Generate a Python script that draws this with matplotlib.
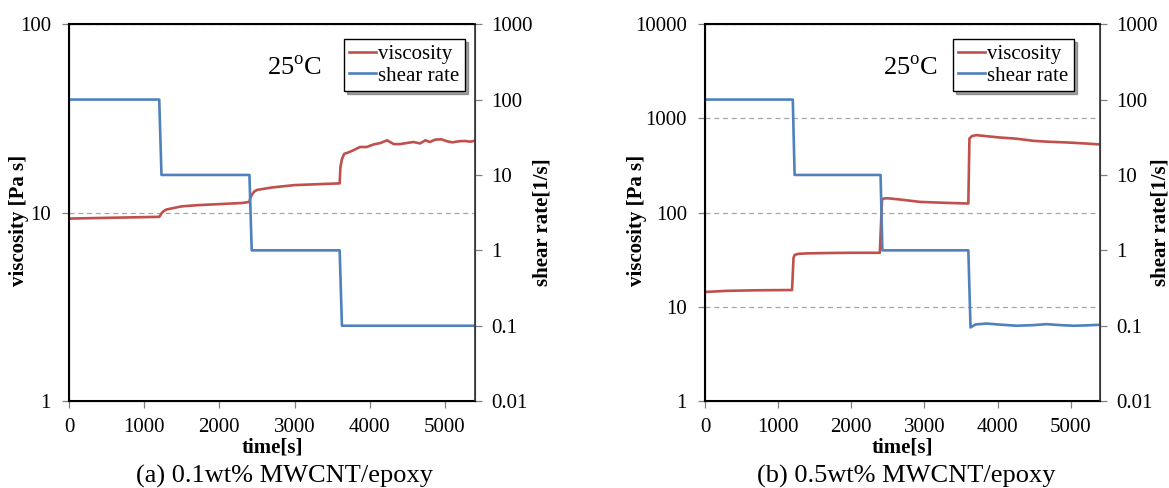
import matplotlib
matplotlib.use('Agg')
import matplotlib.pyplot as plt

plt.rcParams['font.family'] = 'Liberation Serif'
plt.rcParams['mathtext.fontset'] = 'custom'
plt.rcParams['mathtext.rm'] = 'Liberation Serif'

# (a) 0.1 wt% sample
time_a = [0, 300, 600, 900, 1200, 1210, 1230, 1260, 1300, 1400, 1500, 1700, 1900, 2100, 2300,
          2400, 2410, 2430, 2460, 2500, 2600, 2700, 2850, 3000, 3200, 3400, 3600, 3610, 3630,
          3660, 3720, 3780, 3870, 3960, 4050, 4140, 4230, 4320, 4400, 4490, 4580, 4670, 4740,
          4800, 4870, 4950, 5030, 5100, 5180, 5260, 5340, 5400]
visc_a = [9.3, 9.35, 9.4, 9.45, 9.5, 9.6, 9.9, 10.2, 10.4, 10.6, 10.8, 10.95, 11.05, 11.15, 11.25,
          11.4, 11.9, 12.4, 12.9, 13.2, 13.4, 13.6, 13.8, 14.0, 14.1, 14.2, 14.3, 17.5, 19.2,
          20.5, 20.9, 21.4, 22.3, 22.3, 23.0, 23.4, 24.2, 23.1, 23.1, 23.4, 23.7, 23.3, 24.2,
          23.7, 24.4, 24.5, 23.9, 23.6, 23.9, 24.0, 23.8, 24.1]
time_sr_a = [0, 1200, 1230, 2400, 2430, 3600, 3630, 5400]
shear_a = [100, 100, 10, 10, 1, 1, 0.1, 0.1]

# (b) 0.5 wt% sample
time_b = [0, 300, 700, 1190, 1210, 1225, 1270, 1400, 1700, 2000, 2390, 2420, 2450, 2500,
          2660, 2940, 3300, 3600, 3615, 3650, 3710, 4030, 4250, 4490, 4700, 4940, 5200, 5400]
visc_b = [14.4, 14.8, 15.0, 15.1, 33.0, 35.5, 36.5, 37.0, 37.3, 37.5, 37.5, 138, 141.5, 142,
          138, 130, 127, 125, 612, 650, 664, 627, 610, 578, 565, 556, 542, 529]
time_sr_b = [0, 1200, 1225, 2400, 2425, 3600, 3630, 3700, 3850, 4000, 4260, 4500, 4670, 4850,
             5040, 5200, 5400]
shear_b = [100, 100, 10, 10, 1, 1, 0.095, 0.104, 0.107, 0.104, 0.100, 0.102, 0.105, 0.102,
           0.100, 0.101, 0.103]

time_ticks = [0, 1000, 2000, 3000, 4000, 5000]
visc_ticks_a = [1, 10, 100]
visc_ticks_b = [1, 10, 100, 1000, 10000]
shear_ticks = [0.01, 0.1, 1, 10, 100, 1000]
captions = ['(a) 0.1wt% MWCNT/epoxy', '(b) 0.5wt% MWCNT/epoxy']

RED = '#C0504D'
BLUE = '#4F81BD'

fig = plt.figure(figsize=(11.69, 4.88), dpi=100)
ax_a = fig.add_axes([69 / 1169, 0.178, 406 / 1169, 0.7725])
ax_b = fig.add_axes([705 / 1169, 0.178, 395 / 1169, 0.7725])

panels = [
    (ax_a, time_a, visc_a, time_sr_a, shear_a, visc_ticks_a, -0.122, 1.167, 0.487, 0.975,
     284 / 1169, captions[0]),
    (ax_b, time_b, visc_b, time_sr_b, shear_b, visc_ticks_b, -0.172, 1.152, 0.451, 0.934,
     906 / 1169, captions[1]),
]

for ax, t, v, tsr, sr, vticks, vlab_x, slab_x, temp_x, leg_x, cap_x, cap in panels:
    ax2 = ax.twinx()
    l1, = ax.plot(t, v, color=RED, lw=1.9, label='viscosity')
    l2, = ax2.plot(tsr, sr, color=BLUE, lw=1.9, label='shear rate')

    ax.set_yscale('log')
    ax2.set_yscale('log')
    ax.set_xlim(0, 5400)
    ax.set_ylim(vticks[0], vticks[-1])
    ax2.set_ylim(shear_ticks[0], shear_ticks[-1])

    ax.set_xticks(time_ticks)
    ax.set_xticklabels([str(x) for x in time_ticks])
    ax.set_yticks(vticks)
    ax.set_yticklabels([f'{x:g}' for x in vticks])
    ax2.set_yticks(shear_ticks)
    ax2.set_yticklabels([f'{x:g}' for x in shear_ticks])
    ax.minorticks_off()
    ax2.minorticks_off()

    ax.grid(axis='y', which='major', color='#A6A6A6', linestyle=(0, (4, 3)), lw=0.9)
    ax.tick_params(axis='both', direction='out', length=5, width=0.9, color='#808080',
                   labelsize=15, pad=8)
    ax.tick_params(axis='x', pad=7)
    ax2.tick_params(axis='y', direction='out', length=5, width=0.9, color='#808080',
                    labelsize=15, pad=7)

    for name in ['left', 'bottom', 'top']:
        ax.spines[name].set_linewidth(1.5)
        ax.spines[name].set_color('black')
    ax2.spines['right'].set_linewidth(1.3)
    ax2.spines['right'].set_color('#404040')

    ax.set_xlabel('time[s]', fontsize=15, fontweight='bold')
    ax.xaxis.set_label_coords(0.5, -0.124)
    ax.xaxis.label.set_verticalalignment('center')

    ax.set_ylabel('viscosity [Pa s]', fontsize=15, fontweight='bold')
    ax.yaxis.set_label_coords(vlab_x, 0.48)
    ax.yaxis.label.set_verticalalignment('center')
    ax2.set_ylabel('shear rate[1/s]', fontsize=15, fontweight='bold')
    ax2.yaxis.set_label_coords(slab_x, 0.475)
    ax2.yaxis.label.set_verticalalignment('center')

    ax.text(temp_x, 0.865, r'25$^{\mathrm{o}}$C', transform=ax.transAxes, fontsize=19,
            ha='left', va='baseline')

    leg = ax2.legend([l1, l2], ['viscosity', 'shear rate'], loc='upper right',
                     bbox_to_anchor=(leg_x, 0.96), fontsize=15, frameon=True, fancybox=False,
                     shadow=True, handlelength=1.3, handletextpad=0.1, labelspacing=0.1,
                     borderpad=0.25, borderaxespad=0)
    leg.get_frame().set_edgecolor('black')
    leg.get_frame().set_linewidth(1.0)

    fig.text(cap_x, 0.024, cap, fontsize=19, ha='center', va='center')

fig.savefig('out.png', dpi=100)
